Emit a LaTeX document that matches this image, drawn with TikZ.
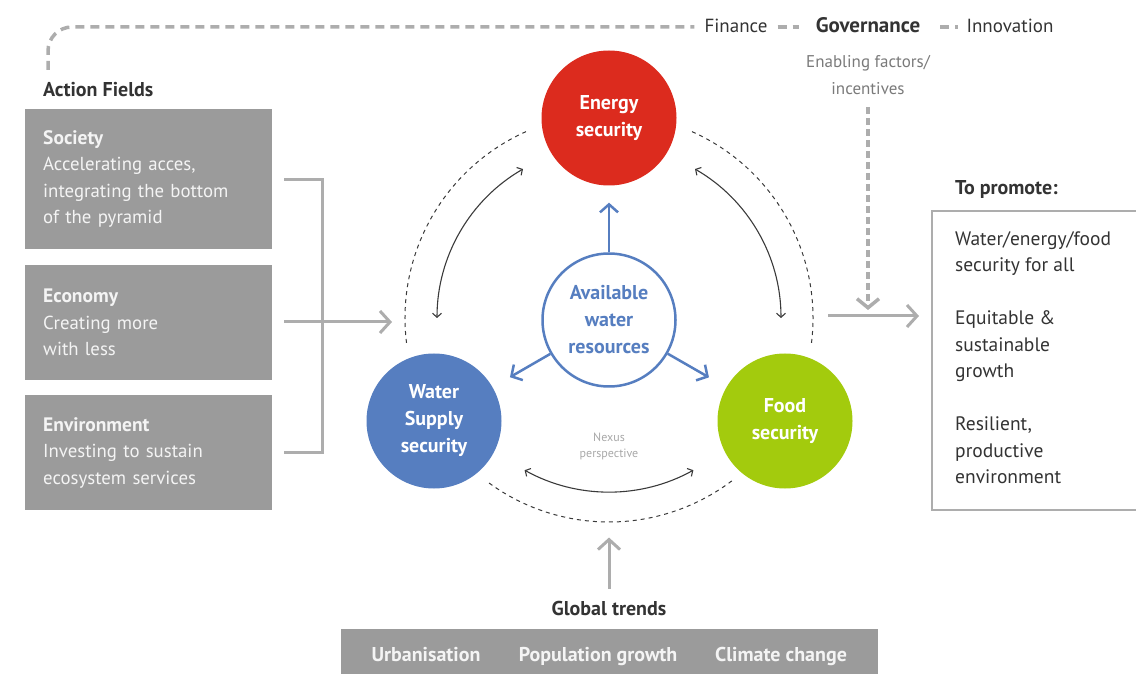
\documentclass[tikz,border=0pt]{standalone}
\usepackage{fontspec}
\setmainfont{PT Sans}
\usetikzlibrary{arrows.meta,calc}
\definecolor{ered}{HTML}{DC2B1E}
\definecolor{eblue}{HTML}{567EC0}
\definecolor{egreen}{HTML}{A3CB0D}
\definecolor{boxgray}{HTML}{9B9B9B}
\definecolor{boxtext}{HTML}{F4F4F4}
\definecolor{linegray}{HTML}{ADADAD}
\definecolor{darktext}{HTML}{333333}
\definecolor{midgray}{HTML}{7A7A7A}
\definecolor{nexusgray}{HTML}{A8A8A8}
\definecolor{darkline}{HTML}{3A3A3A}
\newcommand{\boxtitle}[1]{{\bfseries\fontsize{19.5}{26.5}\selectfont #1}}
\begin{document}
\begin{tikzpicture}[x=1pt,y=1pt,
  boxtxt/.style={fill=boxgray, text=boxtext, minimum width=247pt, text width=211pt,
    inner xsep=18pt, inner ysep=0pt, align=left, anchor=north west,
    font=\fontsize{18.8}{26.5}\selectfont},
  bigcirc/.style={circle, minimum size=135pt, inner sep=0pt, text=white, align=center,
    font=\bfseries\fontsize{20}{27}\selectfont},
  plain/.style={inner sep=0pt, text=darktext, font=\fontsize{19}{24}\selectfont},
  boldlab/.style={inner sep=0pt, text=darktext, font=\bfseries\fontsize{20}{24}\selectfont},
  trendtxt/.style={inner sep=0pt, text=boxtext, anchor=base, font=\bfseries\fontsize{20}{24}\selectfont},
  topdash/.style={draw=linegray, line width=3.5pt, dash pattern=on 9pt off 6pt},
  vdash/.style={draw=linegray, line width=3.5pt, dash pattern=on 7pt off 4pt},
  grayline/.style={draw=linegray, line width=3pt},
  grayarrow/.style={draw=linegray, line width=3pt, -{Straight Barb[length=10pt,width=22pt]}},
  bluearrow/.style={draw=eblue, line width=2.5pt, -{Straight Barb[length=8pt,width=18pt]}},
  ring/.style={draw=darkline, line width=1pt, dash pattern=on 4pt off 4pt},
  dbl/.style={draw=darkline, line width=1.1pt,
    {Straight Barb[length=4pt,width=9pt]}-{Straight Barb[length=4pt,width=9pt]}}
]
\useasboundingbox (0,0) rectangle (1136,673);

% ---- top line: enabling factors ----
\node[plain, anchor=base] (finance) at (736,640) {Finance};
\node[plain, anchor=base, font=\bfseries\fontsize{21}{24}\selectfont] (governance) at (868,640) {Governance};
\node[plain, anchor=base] (innovation) at (1010,640) {Innovation};
\node[inner sep=0pt, text=midgray, align=center, font=\fontsize{17}{27}\selectfont] (enabling) at (868,598) {Enabling factors/\\incentives};

\coordinate (tl) at (48,603);
\draw[topdash, rounded corners=24pt] (tl) |- ([xshift=-10pt,yshift=6pt]finance.base west);
\draw[topdash] ([xshift=10pt,yshift=6pt]finance.base east) -- ([xshift=-17pt,yshift=6pt]governance.base west);
\draw[topdash] ([xshift=20pt,yshift=6pt]governance.base east) -- ([xshift=-8pt,yshift=6pt]innovation.base west);

% ---- action fields ----
\node[boldlab, anchor=west] (af) at (43,583) {Action Fields};
\node[boxtxt, minimum height=140pt] (society) at (25,564)
  {\boxtitle{Society}\\Accelerating acces,\\integrating the bottom\\of the pyramid};
\node[boxtxt, minimum height=115pt] (economy) at (25,408)
  {\boxtitle{Economy}\\Creating more\\with less};
\node[boxtxt, minimum height=115pt] (environment) at (25,278)
  {\boxtitle{Environment}\\Investing to sustain\\ecosystem services};

\draw[grayline] ([xshift=12pt]society.east) -- ++(38,0) |- ([xshift=12pt]environment.east);
\coordinate (leftin) at (392,351);
\draw[grayarrow] ([xshift=12pt]economy.east |- leftin) -- (leftin);

% ---- nexus circles ----
\coordinate (rc) at (609,355);
\node[bigcirc, fill=ered] (energy) at (609,555) {Energy\\security};
\node[bigcirc, fill=eblue] (water) at (434,252) {Water\\Supply\\security};
\node[bigcirc, fill=egreen] (food) at (785,252) {Food\\security};
\node[circle, draw=eblue, line width=2.5pt, fill=white, minimum size=133pt, inner sep=0pt,
  text=eblue, align=center, font=\bfseries\fontsize{20}{27}\selectfont] (avail) at (609,353)
  {Available\\water\\resources};

\draw[bluearrow, shorten >=17pt] (avail) -- (energy);
\draw[bluearrow, shorten >=20pt] (avail) -- (water);
\draw[bluearrow, shorten >=20pt] (avail) -- (food);

% dashed ring
\draw[ring] ($(rc)+(114:204)$) arc[start angle=114, end angle=187, radius=204];
\draw[ring] ($(rc)+(66:204)$) arc[start angle=66, end angle=-7, radius=204];
\draw[ring] ($(rc)+(234:204)$) arc[start angle=234, end angle=307, radius=204];

% double arrows
\draw[dbl] ($(rc)+(120:172)$) arc[start angle=120, end angle=180, radius=172];
\draw[dbl] ($(rc)+(60:172)$) arc[start angle=60, end angle=0, radius=172];
\draw[dbl] ($(rc)+(241:174)$) arc[start angle=241, end angle=299, radius=174];

\node[inner sep=0pt, text=nexusgray, align=center, font=\fontsize{12}{16}\selectfont] (nexus) at (609,227) {Nexus\\perspective};

% ---- global trends ----
\node[boldlab] (gt) at (609,65) {Global trends};
\draw[grayarrow] ([yshift=12pt]gt.north) -- ++(0,51);
\node[fill=boxgray, minimum width=537pt, minimum height=46pt, anchor=south west, inner sep=0pt] (trends) at (341,-2) {};
\node[trendtxt] (urb) at (426,12) {Urbanisation};
\node[trendtxt] (pop) at (598,12) {Population growth};
\node[trendtxt] (clim) at (781,12) {Climate change};

% ---- to promote ----
\node[boldlab, anchor=west] (tp) at (955,483) {To promote:};
\node[draw=linegray, line width=2pt, minimum width=260pt, minimum height=299pt, anchor=north west, inner sep=0pt] (promobox) at (931,463) {};
\node[inner sep=0pt, anchor=north west, text=darktext, align=left, font=\fontsize{19.5}{26.5}\selectfont] (promotext) at (955,442)
  {Water/energy/food\\security for all\\[26.5pt]Equitable \&\\sustainable\\growth\\[26.5pt]Resilient,\\productive\\environment};

\coordinate (rstart) at (828,357);
\draw[grayarrow, shorten >=12pt] (rstart) -- (promobox.west |- rstart);
\draw[vdash, -{Straight Barb[length=9pt,width=22pt]}] ([yshift=-12pt]enabling.south) -- ([yshift=6pt]enabling.south |- rstart);
\end{tikzpicture}
\end{document}
